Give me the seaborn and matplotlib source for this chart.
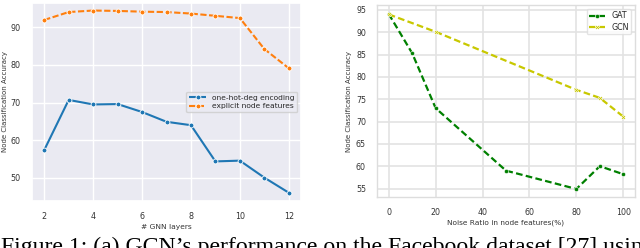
import matplotlib
matplotlib.use("Agg")
import matplotlib.pyplot as plt
import seaborn as sns
import pandas as pd

# ---- data: left panel ----
layers = [2, 3, 4, 5, 6, 7, 8, 9, 10, 11, 12]
onehot_acc = [57.4, 70.7, 69.5, 69.6, 67.5, 64.9, 64.0, 54.4, 54.6, 50.1, 46.1]
explicit_acc = [91.9, 94.0, 94.4, 94.3, 94.1, 94.0, 93.6, 93.0, 92.4, 84.2, 79.1]
left_series = ["one-hot-deg encoding", "explicit node features"]

# ---- data: right panel ----
gat_noise = [0, 10, 20, 50, 80, 90, 100]
gat_acc = [94.1, 85.3, 73.0, 59.0, 54.9, 60.0, 58.2]
gcn_noise = [0, 20, 80, 90, 100]
gcn_acc = [94.0, 90.1, 77.1, 75.3, 71.1]
right_series = ["GAT", "GCN"]

caption = "Figure 1: (a) GCN\u2019s performance on the Facebook dataset [27] using"

sns.set_theme(style="darkgrid")
plt.rcParams["font.family"] = ["DejaVu Sans"]

fig = plt.figure(figsize=(6.4, 2.48), dpi=100)
W, H = 640, 248
axL = fig.add_axes([32 / W, 1 - 201 / H, (301 - 32) / W, (201 - 3) / H])
axR = fig.add_axes([377 / W, 1 - 197 / H, (635 - 377) / W, (197 - 5) / H])

# left panel
dfL = pd.DataFrame({
    "layers": layers * 2,
    "acc": onehot_acc + explicit_acc,
    "series": [left_series[0]] * len(layers) + [left_series[1]] * len(layers),
})
sns.lineplot(data=dfL, x="layers", y="acc", hue="series", style="series",
             palette=["#1f77b4", "#ff7f0e"], dashes=[(1, 0), (3, 1.2)],
             markers=["o", "o"], markersize=3.5, markeredgecolor="white",
             markeredgewidth=0.6, linewidth=1.5, ax=axL)
axL.set_xlim(1.5, 12.5)
axL.set_ylim(43.9, 96.4)
axL.set_xticks([2, 4, 6, 8, 10, 12])
axL.set_yticks([50, 60, 70, 80, 90])
axL.tick_params(labelsize=5.8, pad=2, colors="#333333")
axL.set_xlabel("# GNN layers", fontsize=5.4, labelpad=2, color="#333333")
axL.set_ylabel("Node Classification Accuracy", fontsize=5.0, labelpad=2, color="#333333")
legL = axL.legend(loc="center right", fontsize=5.4, bbox_to_anchor=(1.0, 0.5),
                  frameon=True, handlelength=2.2, borderpad=0.4, labelspacing=0.3)

# right panel
dfR = pd.DataFrame({
    "noise": gat_noise + gcn_noise,
    "acc": gat_acc + gcn_acc,
    "series": [right_series[0]] * len(gat_noise) + [right_series[1]] * len(gcn_noise),
})
sns.lineplot(data=dfR, x="noise", y="acc", hue="series", style="series",
             palette=["#008000", "#c8c800"], dashes=[(3, 1.5), (3, 1.5)],
             markers=["o", "X"], markersize=3, markeredgecolor="white",
             markeredgewidth=0.4, linewidth=1.6, ax=axR)
axR.set_facecolor("white")
axR.grid(True, color="#e3e3e3", linewidth=1.2)
for s in axR.spines.values():
    s.set_visible(True)
    s.set_color("#dddddd")
    s.set_linewidth(1.0)
axR.set_xlim(-5, 105)
axR.set_ylim(53.1, 96.1)
axR.set_xticks([0, 20, 40, 60, 80, 100])
axR.set_yticks([55, 60, 65, 70, 75, 80, 85, 90, 95])
axR.tick_params(labelsize=5.7, pad=2, colors="#333333")
axR.set_xlabel("Noise Ratio in node features(%)", fontsize=5.3, labelpad=2, color="#333333")
axR.set_ylabel("Node Classification Accuracy", fontsize=5.0, labelpad=3, color="#333333")
legR = axR.legend(loc="upper right", fontsize=5.7, frameon=True, handlelength=2.0,
                  borderpad=0.3, labelspacing=0.3)
legR.get_frame().set_facecolor("white")
legR.get_frame().set_edgecolor("#dddddd")

fig.text(0.001, 1 - 236.5 / H, caption, fontsize=17.1, family="Liberation Serif",
         va="top", ha="left", color="black")

fig.savefig("out.png", dpi=100)
